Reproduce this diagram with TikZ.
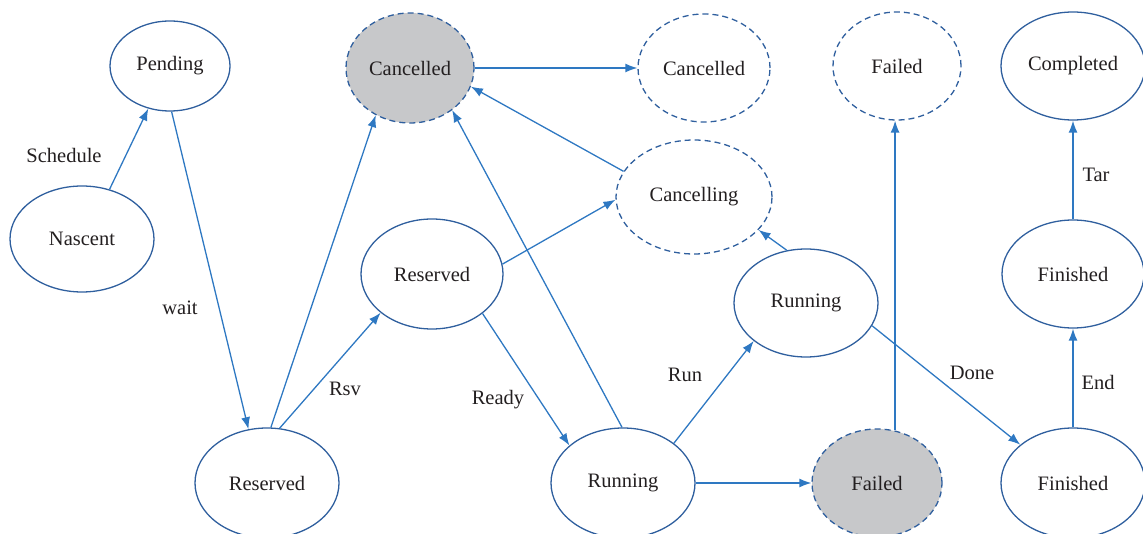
\documentclass[tikz,border=0pt]{standalone}
\usepackage{fontspec}
\setmainfont{Liberation Serif}
\usepackage{tikz}
\usetikzlibrary{shapes.geometric, arrows.meta, positioning, calc}
\definecolor{stateblue}{HTML}{2F5F9E}
\definecolor{edgeblue}{HTML}{2E78C2}
\definecolor{stategray}{HTML}{C7C8CA}
\definecolor{textdark}{HTML}{231F20}

\begin{document}
\begin{tikzpicture}[
    x=1pt, y=-1pt,
    state/.style={
        draw=stateblue,
        ellipse,
        line width=1.3pt,
        inner sep=0pt,
        minimum width=144pt,
        minimum height=108pt,
        text=textdark,
        font=\fontsize{20.5}{24}\selectfont
    },
    virtual/.style={
        state,
        dash pattern=on 6pt off 4pt
    },
    shaded/.style={
        virtual,
        fill=stategray
    },
    arrow/.style={
        -{Latex[length=12pt, width=9pt]},
        line width=1.3pt,
        color=edgeblue
    },
    label/.style={
        text=textdark,
        font=\fontsize{20.5}{24}\selectfont
    }
]
\useasboundingbox (0, 0) rectangle (1143, 534);

% Top row
\node[state, minimum width=120pt, minimum height=90pt] (pending) at (170, 66) {Pending};
\node[shaded, minimum width=128pt, minimum height=110pt] (cancelA) at (410, 68) {Cancelled};
\node[virtual, minimum width=132pt] (cancelB) at (704, 68) {Cancelled};
\node[virtual, minimum width=128pt] (failedB) at (897, 66) {Failed};
\node[state] (completed) at (1073, 66) {Completed};

% Middle row
\node[state, minimum height=106pt] (nascent) at (82, 239) {Nascent};
\node[virtual, minimum width=156pt, minimum height=114pt] (cancelling) at (694, 197) {Cancelling};
\node[state, minimum width=142pt, minimum height=110pt] (reservedB) at (432, 274) {Reserved};
\node[state] (runningB) at (806, 303) {Running};
\node[state, minimum width=142pt] (finishedB) at (1073, 274) {Finished};

% Bottom row
\node[state, minimum height=110pt] (reservedA) at (267, 483) {Reserved};
\node[state, minimum height=110pt] (runningA) at (623, 483) {Running};
\node[shaded, minimum width=130pt] (failedA) at (877, 483) {Failed};
\node[state, minimum height=110pt] (finishedA) at (1073, 483) {Finished};

% Transitions
\draw[arrow] (nascent.61.7) -- (pending.243.4);
\draw[arrow] (pending.272) -- (reservedA.109.4);
\draw[arrow] (reservedA.86.8) -- (cancelA.234.9);
\draw[arrow] (reservedA.77.8) -- (reservedB.217.4);
\draw[arrow] (reservedB.322.3) -- (runningA.145.3);
\draw[arrow] (reservedB.8.4) -- (cancelling.182.2);
\draw[arrow] (runningA.91.1) -- (cancelA.315.6);
\draw[arrow] (cancelling.160.1) -- (cancelA.343.6);
\draw[arrow] (cancelA) -- (cancelB);
\draw[arrow] (runningA.38.7) -- (runningB.216.2);
\draw[arrow] (runningB.110.8) -- (cancelling.333.8);
\draw[arrow] (runningB.341.3) -- (finishedA.144.8);
\draw[arrow] (runningA) -- (failedA);
\draw[arrow] (failedA.71.2) -- (failedA.71.2 |- failedB.south);
\draw[arrow] (finishedA) -- (finishedB);
\draw[arrow] (finishedB) -- (completed);

% Labels
\node[label] (lschedule) at (64, 155) {Schedule};
\node[label] (lwait) at (180, 308) {wait};
\node[label] (lrsv) at (345, 389) {Rsv};
\node[label] (lready) at (498, 400) {Ready};
\node[label] (lrun) at (685, 375) {Run};
\node[label] (ldone) at (972, 373) {Done};
\node[label] (lend) at (1098, 382) {End};
\node[label] (ltar) at (1096, 175) {Tar};

\end{tikzpicture}
\end{document}
